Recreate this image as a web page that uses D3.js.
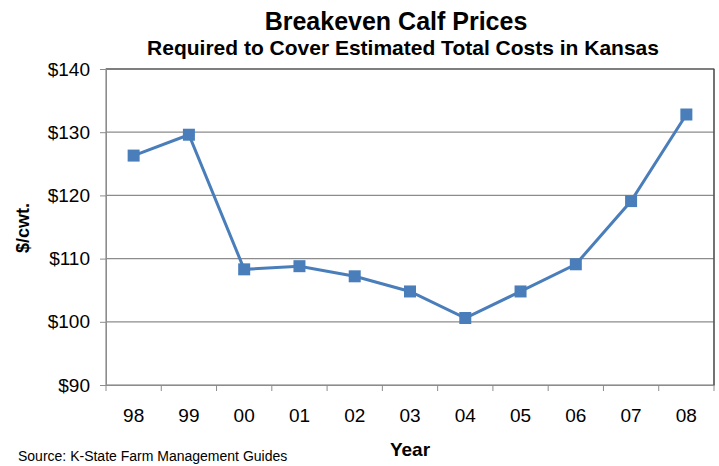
<!DOCTYPE html>
<html><head><meta charset="utf-8">
<script src="https://cdn.jsdelivr.net/npm/d3@7"></script>
<style>body{margin:0;background:#fff}svg{display:block}text{font-family:"Liberation Sans",Arial,sans-serif}</style>
</head><body>
<script>
const years = ["98","99","00","01","02","03","04","05","06","07","08"];
const prices = [126.3,129.6,108.3,108.8,107.2,104.8,100.6,104.8,109.1,119.1,132.8];
const yTicks = [90,100,110,120,130,140];

const W=719,H=466;
const m={left:106,right:714,top:69,bottom:385};
const svg=d3.select("body").append("svg").attr("width",W).attr("height",H);
const x=d3.scaleBand().domain(years).range([m.left,m.right]);
const y=d3.scaleLinear().domain([90,140]).range([m.bottom,m.top]);

// gridlines
svg.append("g").selectAll("line").data(yTicks.slice(1,-1)).join("line")
 .attr("x1",m.left).attr("x2",m.right).attr("y1",d=>y(d)).attr("y2",d=>y(d))
 .attr("stroke","#8c8c8c").attr("stroke-width",1.2);
// plot border
svg.append("rect").attr("x",m.left).attr("y",m.top).attr("width",m.right-m.left).attr("height",m.bottom-m.top)
 .attr("fill","none").attr("stroke","#8c8c8c").attr("stroke-width",1.2);
svg.append("line").attr("x1",m.left).attr("x2",m.right).attr("y1",m.top).attr("y2",m.top).attr("stroke","#444").attr("stroke-width",1.2);
svg.append("line").attr("x1",m.right).attr("x2",m.right).attr("y1",m.top).attr("y2",m.bottom).attr("stroke","#444").attr("stroke-width",1.2);

// y axis
const ya=svg.append("g").attr("transform",`translate(${m.left},0)`)
 .call(d3.axisLeft(y).tickValues(yTicks).tickFormat(d=>"$"+d).tickSize(6).tickPadding(10));
ya.select(".domain").attr("stroke","#8c8c8c");
ya.selectAll(".tick line").attr("stroke","#8c8c8c");
ya.selectAll("text").attr("font-size",19).attr("fill","#000").style("font-family","Liberation Sans, Arial");

// x axis
const xa=svg.append("g").attr("transform",`translate(0,${m.bottom})`)
 .call(d3.axisBottom(x).tickSize(0).tickPadding(24));
xa.select(".domain").attr("stroke","#8c8c8c");
xa.selectAll("text").attr("font-size",19).attr("fill","#000").style("font-family","Liberation Sans, Arial");
const bounds=years.map(d=>x(d)).concat([m.right]);
svg.append("g").selectAll("line").data(bounds).join("line")
 .attr("x1",d=>d).attr("x2",d=>d).attr("y1",m.bottom).attr("y2",m.bottom+6)
 .attr("stroke","#8c8c8c");

// line
const cx=d=>x(d)+x.bandwidth()/2;
const data=years.map((d,i)=>({yr:d,v:prices[i]}));
svg.append("path").datum(data)
 .attr("d",d3.line().x(d=>cx(d.yr)).y(d=>y(d.v)))
 .attr("fill","none").attr("stroke","#4a7ebb").attr("stroke-width",3);
svg.append("g").selectAll("rect").data(data).join("rect")
 .attr("x",d=>cx(d.yr)-6).attr("y",d=>y(d.v)-6).attr("width",12).attr("height",12)
 .attr("fill","#4a7ebb");

// titles
svg.append("text").attr("x",396).attr("y",30).attr("text-anchor","middle")
 .attr("font-size",25).attr("font-weight","bold").text("Breakeven Calf Prices");
svg.append("text").attr("x",403).attr("y",55).attr("text-anchor","middle")
 .attr("font-size",21).attr("font-weight","bold").text("Required to Cover Estimated Total Costs in Kansas");
svg.append("text").attr("x",410).attr("y",456).attr("text-anchor","middle")
 .attr("font-size",19).attr("font-weight","bold").text("Year");
svg.append("text").attr("transform","translate(29,228) rotate(-90)").attr("text-anchor","middle")
 .attr("font-size",18).attr("font-weight","bold").text("$/cwt.");
svg.append("text").attr("x",18).attr("y",461).attr("font-size",14)
 .style("font-family","Liberation Sans, Calibri, sans-serif").text("Source: K-State Farm Management Guides");
</script>
</body></html>
